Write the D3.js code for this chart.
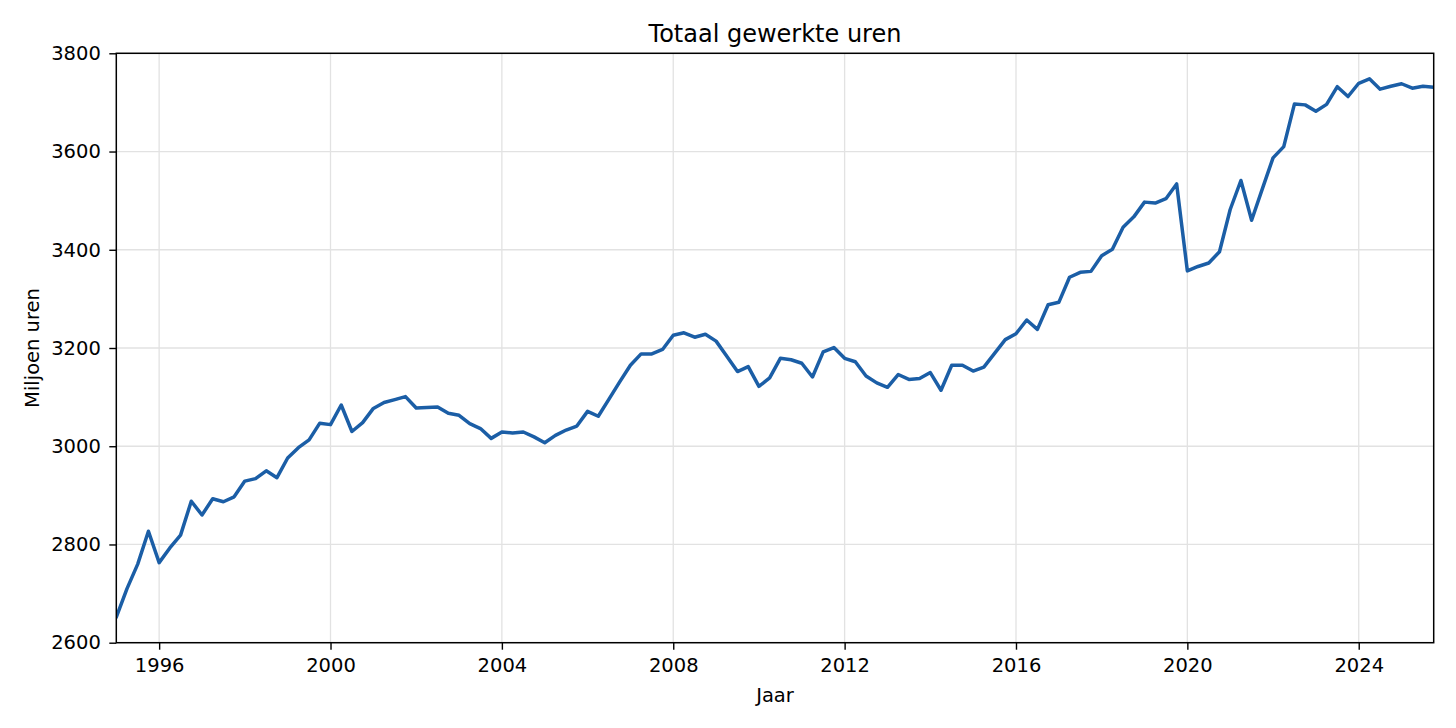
<!DOCTYPE html>
<html>
<head>
<meta charset="utf-8">
<script src="https://cdn.jsdelivr.net/npm/d3@7"></script>
<style>
  html, body { margin: 0; padding: 0; background: #fff; }
  svg { display: block; }
  text { font-family: "DejaVu Sans", sans-serif; fill: #000; }
</style>
</head>
<body>
<svg id="chart" width="1456" height="728"></svg>
<script>
// ---- data (quarterly) ----
const years = [1995,1996,1997,1998,1999,2000,2001,2002,2003,2004,2005,2006,2007,2008,2009,2010,
               2011,2012,2013,2014,2015,2016,2017,2018,2019,2020,2021,2022,2023,2024,2025];
const quarters = [1, 2, 3, 4];
const hours = [
  2652, 2710, 2760, 2827,
  2763, 2793, 2819, 2888,
  2860, 2893, 2887, 2897,
  2929, 2934, 2950, 2936,
  2976, 2997, 3013, 3047,
  3044, 3084, 3030, 3048,
  3077, 3089, 3095, 3101,
  3078, 3079, 3080, 3067,
  3063, 3046, 3036, 3016,
  3029, 3027, 3029, 3019,
  3007, 3022, 3033, 3041,
  3071, 3061, 3096, 3131,
  3165, 3188, 3188, 3197,
  3226, 3231, 3222, 3228,
  3214, 3183, 3152, 3162,
  3122, 3139, 3179, 3176,
  3169, 3141, 3192, 3201,
  3179, 3172, 3143, 3129,
  3120, 3146, 3136, 3138,
  3150, 3114, 3165, 3165,
  3153, 3161, 3189, 3217,
  3229, 3257, 3238, 3288,
  3293, 3344, 3354, 3356,
  3388, 3401, 3446, 3467,
  3497, 3495, 3504, 3534,
  3357, 3366, 3373, 3396,
  3482, 3541, 3460, 3524,
  3587, 3610, 3697, 3695,
  3682, 3696, 3732, 3712,
  3739, 3748, 3727, 3733,
  3738, 3729, 3733, 3731
];
const xTicks = [1996, 2000, 2004, 2008, 2012, 2016, 2020, 2024];
const yTicks = [2600, 2800, 3000, 3200, 3400, 3600, 3800];
const titleText = "Totaal gewerkte uren";
const xLabel = "Jaar";
const yLabel = "Miljoen uren";

// build rows
const rows = [];
years.forEach((yr, i) => quarters.forEach((q, j) => {
  const v = hours[i * 4 + j];
  if (v !== undefined) rows.push({ t: yr + (q - 1) / 4, v });
}));

// ---- layout ----
const L = 116.3, R = 1433.7, T = 53.3, B = 642.7;
const svg = d3.select("#chart");

const x = d3.scaleLinear().domain([1995, 2025.75]).range([L, R]);
const y = d3.scaleLinear().domain([2600, 3800]).range([B, T]);

// grid
const grid = svg.append("g");
grid.selectAll("line.vx").data(xTicks).join("line")
  .attr("x1", d => x(d)).attr("x2", d => x(d)).attr("y1", T).attr("y2", B)
  .attr("stroke", "#e2e2e2").attr("stroke-width", 1.3);
grid.selectAll("line.hy").data(yTicks).join("line")
  .attr("x1", L).attr("x2", R).attr("y1", d => y(d)).attr("y2", d => y(d))
  .attr("stroke", "#e2e2e2").attr("stroke-width", 1.3);

// clip
svg.append("clipPath").attr("id", "clip").append("rect")
  .attr("x", L).attr("y", T).attr("width", R - L).attr("height", B - T);

// line
const line = d3.line().x(d => x(d.t)).y(d => y(d.v));
svg.append("path").datum(rows)
  .attr("clip-path", "url(#clip)")
  .attr("d", line)
  .attr("fill", "none")
  .attr("stroke", "#1b5ea6")
  .attr("stroke-width", 3.5)
  .attr("stroke-linejoin", "round")
  .attr("stroke-linecap", "round");

// axes
const fs = 19.5;
const xAxis = d3.axisBottom(x).tickValues(xTicks).tickFormat(d3.format("d"))
  .tickSizeInner(7).tickSizeOuter(0).tickPadding(8);
const yAxis = d3.axisLeft(y).tickValues(yTicks).tickFormat(d3.format("d"))
  .tickSizeInner(7).tickSizeOuter(0).tickPadding(8.5);

const gx = svg.append("g").attr("transform", `translate(0,${B})`).call(xAxis);
const gy = svg.append("g").attr("transform", `translate(${L},0)`).call(yAxis);
[gx, gy].forEach(g => {
  g.select(".domain").remove();
  g.selectAll(".tick line").attr("stroke", "#000").attr("stroke-width", 1.4);
  g.selectAll(".tick text").attr("font-size", fs).attr("font-family", "DejaVu Sans").attr("fill", "#000");
});

// frame
svg.append("rect").attr("x", L).attr("y", T).attr("width", R - L).attr("height", B - T)
  .attr("fill", "none").attr("stroke", "#000").attr("stroke-width", 1.5);

// titles
svg.append("text").attr("x", (L + R) / 2).attr("y", 41.5)
  .attr("text-anchor", "middle").attr("font-size", 24).text(titleText);
svg.append("text").attr("x", (L + R) / 2).attr("y", 701.5)
  .attr("text-anchor", "middle").attr("font-size", fs).text(xLabel);
svg.append("text").attr("transform", `translate(38.5,${(T + B) / 2}) rotate(-90)`)
  .attr("text-anchor", "middle").attr("font-size", fs).text(yLabel);
</script>
</body>
</html>
